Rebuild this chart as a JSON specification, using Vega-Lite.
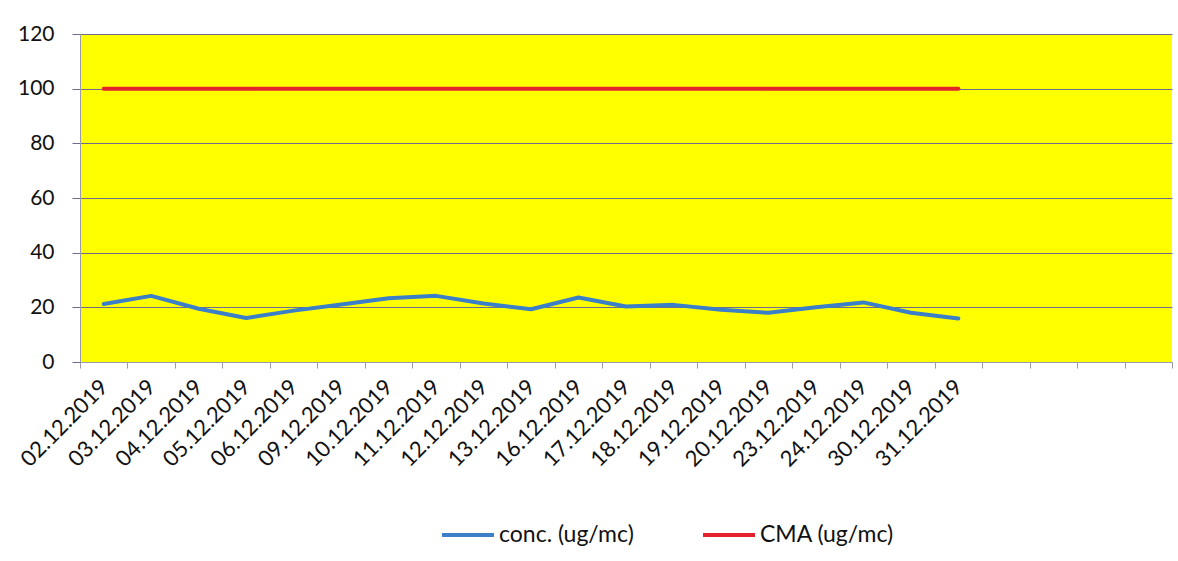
{
  "$schema": "https://vega.github.io/schema/vega-lite/v6.json",
  "autosize": "none",
  "width": 1092,
  "height": 328,
  "padding": {"left": 80, "top": 34, "right": 6, "bottom": 199},
  "background": "white",
  "config": {
    "view": {"stroke": null, "fill": "#FFFF00"},
    "font": "Lato"
  },
  "data": {
    "values": [
      {"date": "02.12.2019", "series": "conc. (ug/mc)", "value": 21.2},
      {"date": "03.12.2019", "series": "conc. (ug/mc)", "value": 24.2},
      {"date": "04.12.2019", "series": "conc. (ug/mc)", "value": 19.5},
      {"date": "05.12.2019", "series": "conc. (ug/mc)", "value": 16.1},
      {"date": "06.12.2019", "series": "conc. (ug/mc)", "value": 18.8},
      {"date": "09.12.2019", "series": "conc. (ug/mc)", "value": 21.0},
      {"date": "10.12.2019", "series": "conc. (ug/mc)", "value": 23.3},
      {"date": "11.12.2019", "series": "conc. (ug/mc)", "value": 24.2},
      {"date": "12.12.2019", "series": "conc. (ug/mc)", "value": 21.4},
      {"date": "13.12.2019", "series": "conc. (ug/mc)", "value": 19.3},
      {"date": "16.12.2019", "series": "conc. (ug/mc)", "value": 23.6},
      {"date": "17.12.2019", "series": "conc. (ug/mc)", "value": 20.3},
      {"date": "18.12.2019", "series": "conc. (ug/mc)", "value": 20.9},
      {"date": "19.12.2019", "series": "conc. (ug/mc)", "value": 19.1},
      {"date": "20.12.2019", "series": "conc. (ug/mc)", "value": 18.0},
      {"date": "23.12.2019", "series": "conc. (ug/mc)", "value": 20.0},
      {"date": "24.12.2019", "series": "conc. (ug/mc)", "value": 21.8},
      {"date": "30.12.2019", "series": "conc. (ug/mc)", "value": 18.0},
      {"date": "31.12.2019", "series": "conc. (ug/mc)", "value": 15.9},
      {"date": "02.12.2019", "series": "CMA (ug/mc)", "value": 100},
      {"date": "03.12.2019", "series": "CMA (ug/mc)", "value": 100},
      {"date": "04.12.2019", "series": "CMA (ug/mc)", "value": 100},
      {"date": "05.12.2019", "series": "CMA (ug/mc)", "value": 100},
      {"date": "06.12.2019", "series": "CMA (ug/mc)", "value": 100},
      {"date": "09.12.2019", "series": "CMA (ug/mc)", "value": 100},
      {"date": "10.12.2019", "series": "CMA (ug/mc)", "value": 100},
      {"date": "11.12.2019", "series": "CMA (ug/mc)", "value": 100},
      {"date": "12.12.2019", "series": "CMA (ug/mc)", "value": 100},
      {"date": "13.12.2019", "series": "CMA (ug/mc)", "value": 100},
      {"date": "16.12.2019", "series": "CMA (ug/mc)", "value": 100},
      {"date": "17.12.2019", "series": "CMA (ug/mc)", "value": 100},
      {"date": "18.12.2019", "series": "CMA (ug/mc)", "value": 100},
      {"date": "19.12.2019", "series": "CMA (ug/mc)", "value": 100},
      {"date": "20.12.2019", "series": "CMA (ug/mc)", "value": 100},
      {"date": "23.12.2019", "series": "CMA (ug/mc)", "value": 100},
      {"date": "24.12.2019", "series": "CMA (ug/mc)", "value": 100},
      {"date": "30.12.2019", "series": "CMA (ug/mc)", "value": 100},
      {"date": "31.12.2019", "series": "CMA (ug/mc)", "value": 100}
    ]
  },
  "mark": {"type": "line", "strokeWidth": 4, "strokeCap": "round", "strokeJoin": "round"},
  "encoding": {
    "x": {
      "field": "date",
      "type": "nominal",
      "bandPosition": 0.5,
      "sort": null,
      "scale": {
        "type": "band",
        "paddingInner": 0,
        "paddingOuter": 0,
        "domain": ["02.12.2019","03.12.2019","04.12.2019","05.12.2019","06.12.2019","09.12.2019","10.12.2019","11.12.2019","12.12.2019","13.12.2019","16.12.2019","17.12.2019","18.12.2019","19.12.2019","20.12.2019","23.12.2019","24.12.2019","30.12.2019","31.12.2019"," ","  ","   ","    "]
      },
      "axis": {
        "title": null,
        "tickBand": "extent",
        "grid": false,
        "domainColor": "#9a9aa8",
        "tickColor": "#9a9aa8",
        "tickSize": 6,
        "labelAngle": -45,
        "labelAlign": "right",
        "labelBaseline": "middle",
        "labelPadding": 15,
        "labelFontSize": 22,
        "labelColor": "#111111",
        "labelOverlap": false
      }
    },
    "y": {
      "field": "value",
      "type": "quantitative",
      "scale": {"domain": [0, 120], "nice": false},
      "axis": {
        "title": null,
        "values": [0, 20, 40, 60, 80, 100, 120],
        "grid": true,
        "gridColor": "#6e6e8a",
        "gridWidth": 1,
        "domainColor": "#9a9aa8",
        "tickColor": "#6e6e8a",
        "tickSize": 8,
        "labelPadding": 18,
        "labelFontSize": 21,
        "labelColor": "#111111"
      }
    },
    "color": {
      "field": "series",
      "type": "nominal",
      "scale": {"domain": ["conc. (ug/mc)", "CMA (ug/mc)"], "range": ["#3B7FC8", "#E3232C"]},
      "legend": {
        "title": null,
        "orient": "none",
        "legendX": 360,
        "legendY": 473,
        "direction": "horizontal",
        "symbolType": "stroke",
        "symbolSize": 2704,
        "symbolStrokeWidth": 4,
        "labelOffset": 3,
        "labelFontSize": 23,
        "labelColor": "#111111",
        "columnPadding": 61
      }
    }
  }
}
